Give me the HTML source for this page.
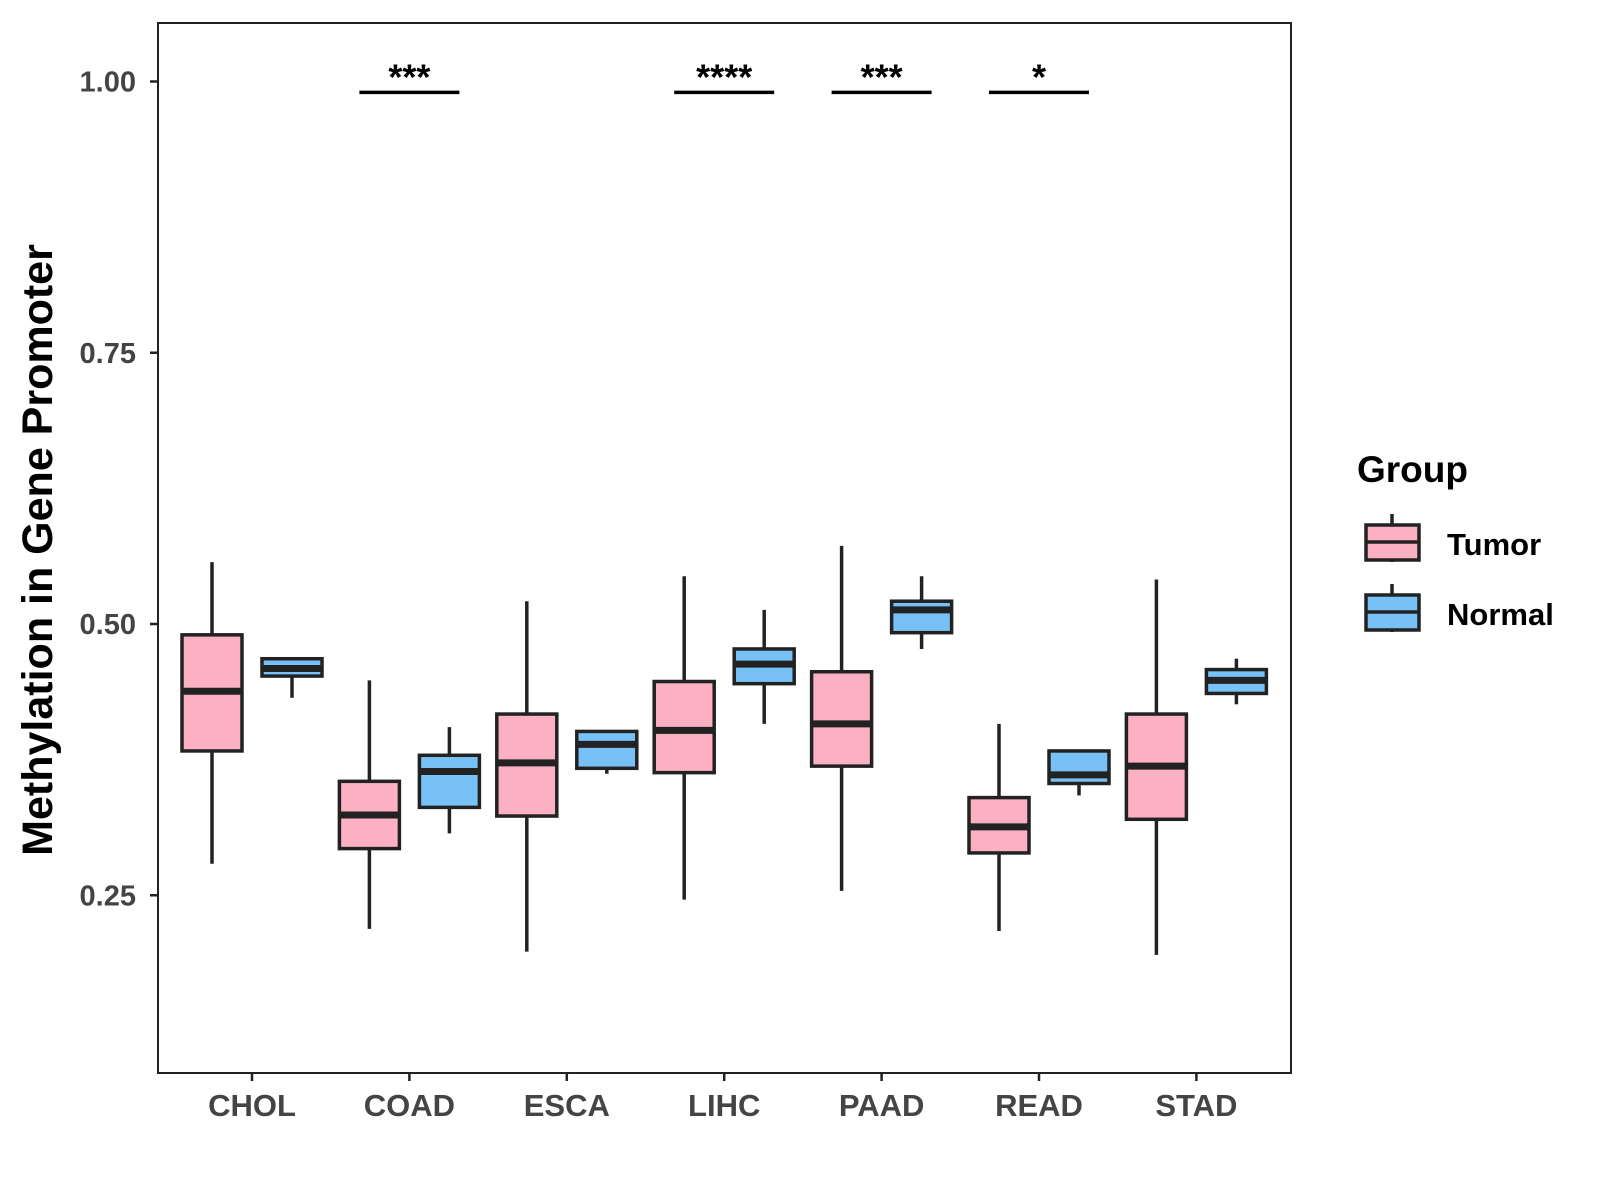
<!DOCTYPE html>
<html><head><meta charset="utf-8"><style>html,body{margin:0;padding:0;background:#fff}svg{display:block}</style></head>
<body>
<svg id="chart" width="1600" height="1200" xmlns="http://www.w3.org/2000/svg" font-family="Liberation Sans, Arial, sans-serif">
<rect x="0" y="0" width="1600" height="1200" fill="#fff"/>
<g id="marks"></g>
<rect x="158" y="23" width="1133" height="1050" fill="none" stroke="#222" stroke-width="2"/>
<text transform="translate(52,550) rotate(-90)" text-anchor="middle" font-size="43" font-weight="bold" fill="#000">Methylation in Gene Promoter</text>
<g transform="translate(-5,-2)">
<text x="1362" y="484" font-size="37" font-weight="bold" fill="#000">Group</text>
<g>
<line x1="1397" y1="516" x2="1397" y2="564" stroke="#222" stroke-width="3.5"/>
<rect x="1371" y="527" width="53" height="35" fill="#FBB1C3" stroke="#222" stroke-width="3.5"/>
<line x1="1371" y1="544" x2="1424" y2="544" stroke="#222" stroke-width="3.5"/>
<text x="1452" y="557" font-size="31" font-weight="bold" fill="#000">Tumor</text>
</g>
<g>
<line x1="1397" y1="586" x2="1397" y2="634" stroke="#222" stroke-width="3.5"/>
<rect x="1371" y="597" width="53" height="35" fill="#77C1F7" stroke="#222" stroke-width="3.5"/>
<line x1="1371" y1="614" x2="1424" y2="614" stroke="#222" stroke-width="3.5"/>
<text x="1452" y="627" font-size="31" font-weight="bold" fill="#000">Normal</text>
</g>
</g>
</svg>
<script>
const categories = ["CHOL","COAD","ESCA","LIHC","PAAD","READ","STAD"];
// [lower, q1, median, q3, upper]
const tumorStats = [
 [0.279,0.383,0.438,0.490,0.557],
 [0.219,0.293,0.324,0.355,0.448],
 [0.198,0.323,0.372,0.417,0.521],
 [0.246,0.363,0.402,0.447,0.544],
 [0.254,0.369,0.408,0.456,0.572],
 [0.217,0.289,0.313,0.340,0.408],
 [0.195,0.320,0.369,0.417,0.541]
];
const normalStats = [
 [0.432,0.452,0.459,0.468,0.468],
 [0.307,0.331,0.364,0.379,0.405],
 [0.362,0.367,0.389,0.401,0.401],
 [0.408,0.445,0.463,0.477,0.513],
 [0.477,0.492,0.513,0.521,0.544],
 [0.342,0.353,0.361,0.383,0.383],
 [0.426,0.436,0.448,0.458,0.468]
];
const sigLabels = ["","***","","****","***","*",""];
const yTicks = [0.25,0.50,0.75,1.00];
const yTickLabels = ["0.25","0.50","0.75","1.00"];

const NS="http://www.w3.org/2000/svg";
const svg=document.getElementById('chart');
const marks=document.getElementById('marks');
function yScale(v){return 624-(v-0.5)*1085;}
function xScale(i){return 252+i*157.4;}
function mk(tag,attrs,parent){const e=document.createElementNS(NS,tag);for(const k in attrs)e.setAttribute(k,attrs[k]);(parent||marks).appendChild(e);return e;}

yTicks.forEach((t,i)=>{
  const y=yScale(t);
  const tk=mk('line',{x1:150,y1:y,x2:158,y2:y,stroke:'#222','stroke-width':2.5},svg);
  
  
  const tx=mk('text',{x:136,y:y+10,'text-anchor':'end','font-size':29,'font-weight':'bold',fill:'#444'},svg);
  tx.textContent=yTickLabels[i];
  
  
});
categories.forEach((c,i)=>{
  const x=xScale(i);
  const tk=mk('line',{x1:x,y1:1073,x2:x,y2:1081,stroke:'#222','stroke-width':2.5},svg);
  
  
  const tx=mk('text',{x:x,y:1116,'text-anchor':'middle','font-size':31,'font-weight':'bold',fill:'#444'},svg);
  tx.textContent=c;
  
  
});
function drawBox(cx,s,fill,name){
  const g=mk('g',{});
  
  
  const w=60;
  mk('line',{x1:cx,y1:yScale(s[0]),x2:cx,y2:yScale(s[4]),stroke:'#222','stroke-width':3.5},g);
  mk('rect',{x:cx-w/2,y:yScale(s[3]),width:w,height:yScale(s[1])-yScale(s[3]),fill:fill,stroke:'#222','stroke-width':3.5},g);
  mk('line',{x1:cx-w/2,y1:yScale(s[2]),x2:cx+w/2,y2:yScale(s[2]),stroke:'#222','stroke-width':7},g);
}
categories.forEach((c,i)=>{
  const x=xScale(i);
  drawBox(x-40,tumorStats[i],'#FBB1C3','box-tumor-'+c.toLowerCase());
  drawBox(x+40,normalStats[i],'#77C1F7','box-normal-'+c.toLowerCase());
  if(sigLabels[i]){
    const g=mk('g',{});
    
    
    mk('line',{x1:x-50,y1:yScale(0.99),x2:x+50,y2:yScale(0.99),stroke:'#000','stroke-width':3.5},g);
    const t=mk('text',{x:x,y:yScale(0.99)-3,'text-anchor':'middle','font-size':36,'font-weight':'bold',fill:'#000'},g);
    t.textContent=sigLabels[i];
  }
});
</script>
</body></html>
